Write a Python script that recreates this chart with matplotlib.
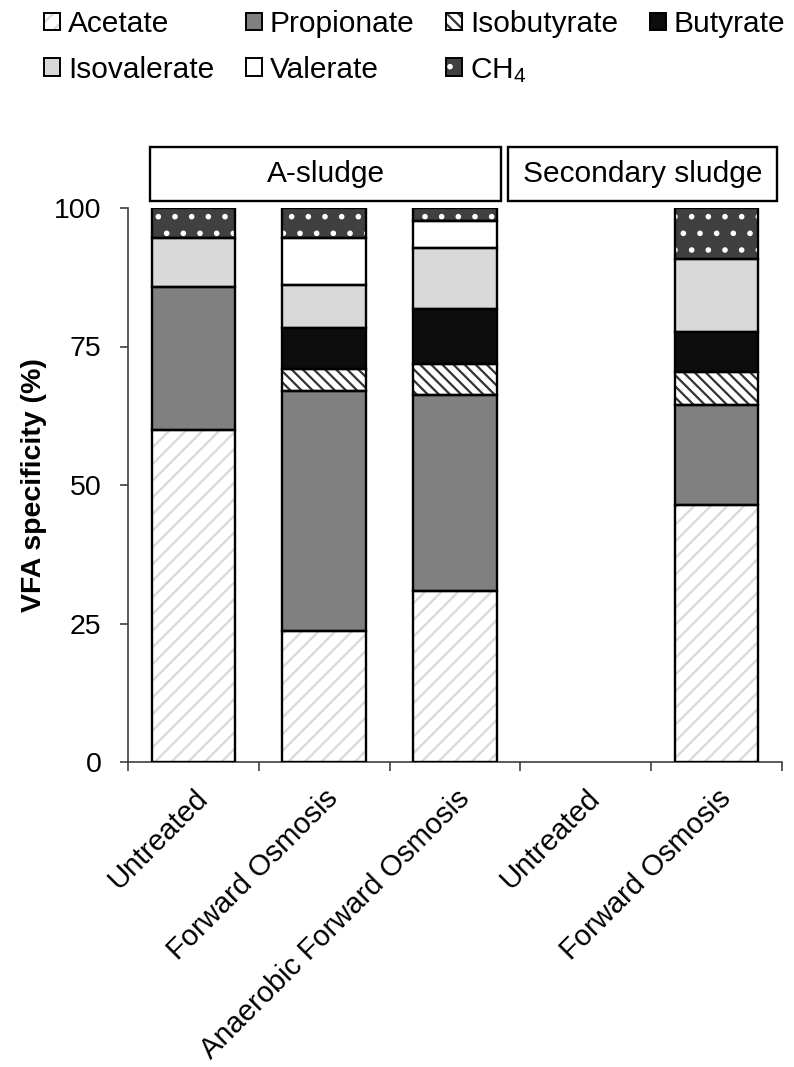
import matplotlib
matplotlib.use("Agg")
import matplotlib.pyplot as plt
from matplotlib.patches import Patch, Rectangle
from matplotlib.legend_handler import HandlerTuple
from matplotlib.transforms import ScaledTranslation
import numpy as np

plt.rcParams['font.family'] = ['Liberation Sans', 'DejaVu Sans']
plt.rcParams['mathtext.default'] = 'regular'
plt.rcParams['hatch.linewidth'] = 1.6

# Data (%)
categories = ['Untreated', 'Forward Osmosis', 'Anaerobic Forward Osmosis',
              'Untreated', 'Forward Osmosis']
acetate = [60.0, 23.6, 30.9, 0.0, 46.4]
propionate = [25.7, 43.4, 35.3, 0.0, 18.0]
isobutyrate = [0.0, 3.9, 5.6, 0.0, 6.0]
butyrate = [0.0, 7.4, 10.0, 0.0, 7.2]
isovalerate = [8.9, 7.8, 11.0, 0.0, 13.2]
valerate = [0.0, 8.5, 4.9, 0.0, 0.0]
ch4 = [5.4, 5.4, 2.3, 0.0, 9.2]

series_names = ['Acetate', 'Propionate', 'Isobutyrate', 'Butyrate',
                'Isovalerate', 'Valerate', 'CH$_4$']
series_values = [acetate, propionate, isobutyrate, butyrate,
                 isovalerate, valerate, ch4]

groups = ['A-sludge', 'Secondary sludge']

# style per series: face colour, hatch, hatch colour
styles = [
    ('white', '//', '#d9d9d9'),
    ('#808080', '', '#808080'),
    ('white', '\\\\\\', '#333333'),
    ('#0d0d0d', '', '#0d0d0d'),
    ('#d9d9d9', '', '#d9d9d9'),
    ('white', '', 'white'),
    ('#404040', '.', 'white'),
]

FS = 21.5
AXC = '#404040'

fig = plt.figure(figsize=(7.94, 10.67), dpi=100)
ax = fig.add_axes([128 / 794, 1 - 762 / 1067, 654 / 794, 554 / 1067])

x = np.arange(len(categories))
width = 0.64
bottom = np.zeros(len(categories))
for vals, (fc, hatch, hc) in zip(series_values, styles):
    vals = np.array(vals)
    keep = vals > 0
    ax.bar(x[keep], vals[keep], width, bottom=bottom[keep], color=fc,
           hatch=hatch, edgecolor=hc, linewidth=0, zorder=2)
    ax.bar(x[keep], vals[keep], width, bottom=bottom[keep], fill=False,
           edgecolor='black', linewidth=1.7, zorder=3)
    bottom += vals

ax.set_xlim(-0.5, len(categories) - 0.5)
ax.set_ylim(0, 100)
ax.set_yticks([0, 25, 50, 75, 100])
ax.set_xticks(np.arange(len(categories) + 1) - 0.5)
ax.set_xticklabels([])
ax.set_xticks(x, minor=True)
ax.set_xticklabels(categories, minor=True, rotation=45, ha='right',
                   va='top', rotation_mode='anchor', fontsize=21)
shift = ScaledTranslation(10 / 100, 0, fig.dpi_scale_trans)
for lab in ax.get_xticklabels(minor=True):
    lab.set_transform(lab.get_transform() + shift)
ax.tick_params(axis='x', which='minor', length=0, pad=16)
ax.tick_params(axis='x', which='major', length=6.5, width=1.2, color=AXC)
ax.tick_params(axis='y', length=6, width=1.2, color=AXC,
               labelsize=20.5, pad=13)

for side in ['top', 'right']:
    ax.spines[side].set_visible(False)
for side in ['left', 'bottom']:
    ax.spines[side].set_color(AXC)
    ax.spines[side].set_linewidth(1.2)

ax.set_ylabel('VFA specificity (%)', fontsize=20.5, fontweight='bold')
ax.yaxis.set_label_coords(-0.124, 0.5)

# group header boxes
tr = ax.get_xaxis_transform()
group_spans = [(-0.332, 2.355), (2.408, 4.462)]
for name, (x0, x1) in zip(groups, group_spans):
    ax.add_patch(Rectangle((x0, 1.0126), x1 - x0, 0.0975, transform=tr,
                           fill=False, edgecolor='black', linewidth=1.7,
                           clip_on=False))
    ax.text((x0 + x1) / 2, 1.061, name, transform=tr, ha='center',
            va='center', fontsize=FS)

# legend, laid out row-wise
handles = []
for fc, hatch, hc in styles:
    handles.append((Patch(facecolor=fc, hatch=hatch, edgecolor=hc, linewidth=0),
                    Patch(fill=False, edgecolor='black', linewidth=1.4)))
order = [0, 4, 1, 5, 2, 6, 3]
fig.legend([handles[i] for i in order], [series_names[i] for i in order],
           handler_map={tuple: HandlerTuple(ndivide=1, pad=0)},
           loc='upper left', bbox_to_anchor=(44 / 794, 1 - 10 / 1067), ncol=4,
           frameon=False, fontsize=FS, handlelength=0.54, handleheight=0.54,
           handletextpad=0.27, columnspacing=1.05, labelspacing=0.6,
           borderaxespad=0, borderpad=0)

fig.savefig('out.png', dpi=100)
